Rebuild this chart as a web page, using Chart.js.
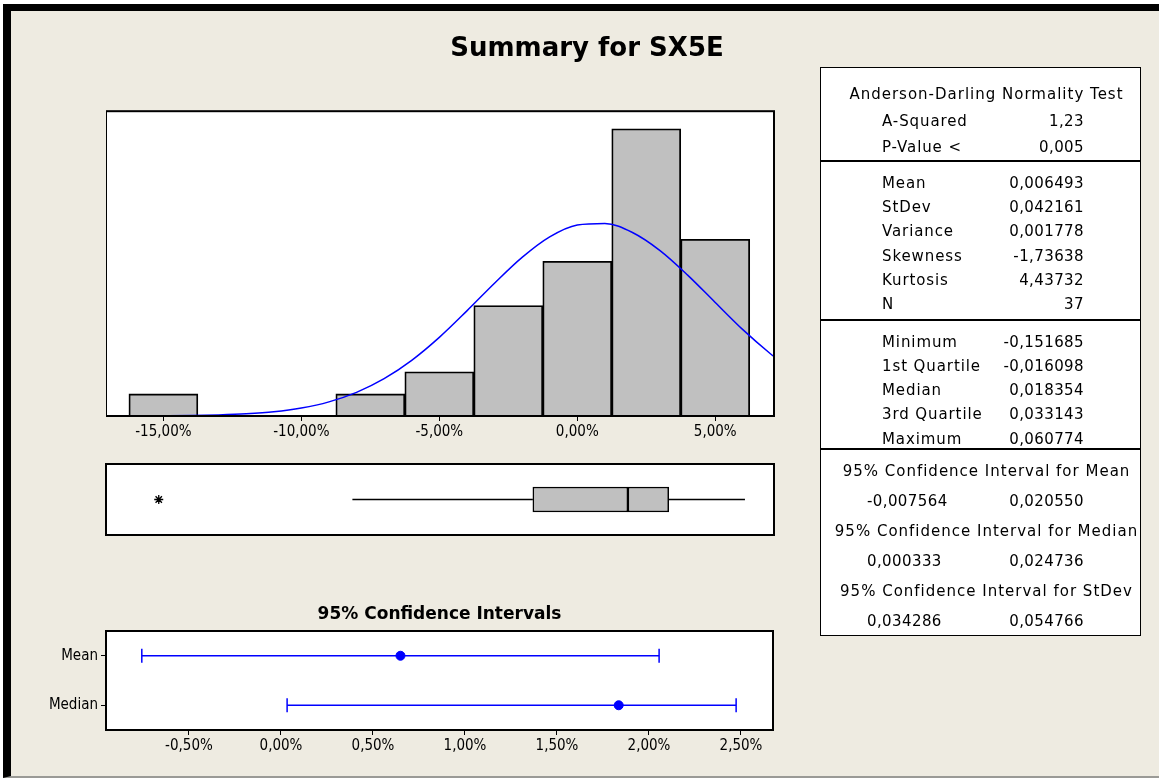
<!DOCTYPE html>
<html>
<head>
<meta charset="utf-8">
<script src="https://cdn.jsdelivr.net/npm/chart.js@4.4.1/dist/chart.umd.min.js"></script>
<style>
  body { margin: 0; width: 1159px; height: 778px; overflow: hidden; background: #fff; position: relative; }
  #page { position: absolute; left: 3px; top: 4px; width: 1156px; height: 774px; box-sizing: border-box;
          background: #eeebe1; border-top: 7px solid #000; border-left: 8px solid #000; border-bottom: 2px solid #9a9a96; }
  canvas { position: absolute; }
  #stats { position: absolute; left: 820px; top: 67px; width: 321px; height: 569px; box-sizing: border-box;
           border: 1.5px solid #000; background: #fff; font-family: 'DejaVu Sans', Verdana, sans-serif;
           font-size: 15px; color: #000; }
  .sec { border-bottom: 2px solid #000; box-sizing: border-box; }
  .sec:last-child { border-bottom: none; }
  .row { position: relative; white-space: nowrap; }
  .row .lab { position: absolute; left: 61px; letter-spacing: 0.9px; }
  .row .val { position: absolute; left: 0; width: 263px; text-align: right; letter-spacing: 0.4px; }
  .row .lo { position: absolute; left: 46px; letter-spacing: 0.4px; }
  .row .head { position: absolute; left: 6px; width: 100%; text-align: center; letter-spacing: 1px; }
</style>
</head>
<body>
<div id="page"></div>
<canvas id="hist" width="962" height="426" style="left:106px; top:20px;"></canvas>
<canvas id="box" width="672" height="75" style="left:104px; top:462px;"></canvas>
<canvas id="ci" width="839" height="166" style="left:20px; top:604px;"></canvas>
<div id="stats"></div>
<script>
// histogram (percent returns, bins of 2.5%)
const binCenters = [-15, -12.5, -10, -7.5, -5, -2.5, 0, 2.5, 5];
const binCounts = [1, null, null, 1, 2, 5, 7, 13, 8];
const histTicks = [-15, -10, -5, 0, 5];

// fitted normal curve
const curveX = [-15.2, -14, -13, -12, -11, -10, -9, -8, -7, -6, -5, -4, -3, -2, -1, 0, 1, 2, 3, 4, 5, 6, 7, 7.5];
const curveY = [0.01, 0.02, 0.05, 0.1, 0.19, 0.36, 0.64, 1.07, 1.69, 2.52, 3.56, 4.76, 6.01, 7.18, 8.11, 8.65, 8.72, 8.31, 7.49, 6.38, 5.14, 3.91, 2.82, 2.34];

// boxplot
const whiskerLow = -8.15;
const quartile1 = -1.6098;
const medianVal = 1.8354;
const quartile3 = 3.3143;
const whiskerHigh = 6.0774;
const outliers = [-15.1685];

// 95% confidence intervals
const ciLabels = ['Mean', 'Median'];
const ciEstimates = [0.6493, 1.8354];
const ciLower = [-0.7564, 0.0333];
const ciUpper = [2.0550, 2.4736];
const ciTicks = [-0.5, 0, 0.5, 1, 1.5, 2, 2.5];

// summary table
const adTitle = 'Anderson-Darling Normality Test';
const adRows = [['A-Squared', '1,23'], ['P-Value <', '0,005']];
const momentRows = [['Mean', '0,006493'], ['StDev', '0,042161'], ['Variance', '0,001778'],
                    ['Skewness', '-1,73638'], ['Kurtosis', '4,43732'], ['N', '37']];
const quantileRows = [['Minimum', '-0,151685'], ['1st Quartile', '-0,016098'], ['Median', '0,018354'],
                      ['3rd Quartile', '0,033143'], ['Maximum', '0,060774']];
const intervalRows = [['95% Confidence Interval for Mean', '-0,007564', '0,020550'],
                      ['95% Confidence Interval for Median', '0,000333', '0,024736'],
                      ['95% Confidence Interval for StDev', '0,034286', '0,054766']];

const tickFont = { family: "'DejaVu Sans Condensed', 'Liberation Sans Narrow', sans-serif", size: 15 };
const fmtPct = v => Number(v).toFixed(2).replace('.', ',') + '%';
const tickGrid = { display: true, drawOnChartArea: false, drawTicks: true, tickLength: 5, color: '#000', offset: false };

// empty axis used only to reserve room on the right, so titles stay centred on the canvas
function spacer(width) {
  return {
    type: 'linear', position: 'right', display: true,
    afterFit: s => { s.width = width; },
    ticks: { display: false }, grid: { display: false }, border: { display: false }
  };
}

// white plot area with a black frame
const framePlugin = {
  id: 'frame',
  beforeDraw(chart) {
    const a = chart.chartArea, ctx = chart.ctx;
    ctx.save();
    ctx.fillStyle = '#fff';
    ctx.fillRect(a.left, a.top, a.right - a.left, a.bottom - a.top);
    ctx.restore();
  },
  afterDraw(chart) {
    const a = chart.chartArea, ctx = chart.ctx;
    ctx.save();
    ctx.strokeStyle = '#000';
    ctx.lineWidth = 2;
    ctx.strokeRect(a.left, a.top, a.right - a.left, a.bottom - a.top);
    ctx.restore();
  }
};

new Chart(document.getElementById('hist'), {
  type: 'bar',
  data: {
    datasets: [
      {
        type: 'line',
        label: 'Normal',
        data: curveX.map((x, i) => ({ x: x, y: curveY[i] })),
        borderColor: '#0000ff',
        borderWidth: 1.5,
        pointRadius: 0,
        cubicInterpolationMode: 'monotone',
        order: 0
      },
      {
        type: 'bar',
        label: 'SX5E',
        data: binCenters.map((x, i) => ({ x: x, y: binCounts[i] })),
        backgroundColor: '#c0c0c0',
        borderColor: '#000',
        borderWidth: 1.8,
        barPercentage: 1,
        categoryPercentage: 1,
        order: 1
      }
    ]
  },
  options: {
    responsive: false,
    animation: false,
    layout: { autoPadding: false, padding: 0 },
    plugins: {
      legend: { display: false },
      tooltip: { enabled: false },
      title: {
        display: true,
        text: 'Summary for SX5E',
        color: '#000',
        font: { family: "'DejaVu Sans', sans-serif", size: 26, weight: 'bold' },
        padding: { top: 14, bottom: 46 }
      }
    },
    scales: {
      x: {
        type: 'linear',
        min: -17.08,
        max: 7.13,
        offset: false,
        afterBuildTicks: s => { s.ticks = histTicks.map(v => ({ value: v })); },
        afterFit: s => { s.height = 30; },
        ticks: { callback: fmtPct, font: tickFont, color: '#000', maxRotation: 0, autoSkip: false, padding: 2 },
        grid: tickGrid,
        border: { display: false }
      },
      y: { display: false, min: 0, max: 13.8 },
      right: spacer(294)
    }
  },
  plugins: [framePlugin]
});

new Chart(document.getElementById('box'), {
  type: 'bar',
  data: {
    datasets: [
      {
        type: 'line',
        data: [{ x: whiskerLow, y: 0.5 }, { x: quartile1, y: 0.5 }],
        borderColor: '#000', borderWidth: 1.5, pointRadius: 0
      },
      {
        type: 'line',
        data: [{ x: quartile3, y: 0.5 }, { x: whiskerHigh, y: 0.5 }],
        borderColor: '#000', borderWidth: 1.5, pointRadius: 0
      },
      {
        type: 'bar',
        indexAxis: 'y',
        data: [{ y: 0.5, x: [quartile1, medianVal] }],
        backgroundColor: '#c0c0c0', borderColor: '#000', borderWidth: 1.5,
        borderSkipped: false, barThickness: 25, grouped: false
      },
      {
        type: 'bar',
        indexAxis: 'y',
        data: [{ y: 0.5, x: [medianVal, quartile3] }],
        backgroundColor: '#c0c0c0', borderColor: '#000', borderWidth: 1.5,
        borderSkipped: false, barThickness: 25, grouped: false
      },
      {
        type: 'scatter',
        data: outliers.map(x => ({ x: x, y: 0.5 })),
        pointStyle: 'star', pointRadius: 4.5, borderColor: '#000', borderWidth: 1.3
      }
    ]
  },
  options: {
    responsive: false,
    animation: false,
    layout: { autoPadding: false, padding: 2 },
    plugins: { legend: { display: false }, tooltip: { enabled: false } },
    scales: {
      x: { type: 'linear', display: false, min: -17.08, max: 7.13, offset: false },
      y: { type: 'linear', display: false, min: 0, max: 1, offset: false }
    }
  },
  plugins: [framePlugin]
});

new Chart(document.getElementById('ci'), {
  type: 'scatter',
  data: {
    datasets: ciLabels.map((lab, i) => ({
      showLine: true,
      data: [{ x: ciLower[i], y: lab }, { x: ciUpper[i], y: lab }],
      borderColor: '#0000ff',
      borderWidth: 1.5,
      pointStyle: 'line',
      pointRadius: 7,
      pointRotation: 90,
      pointBorderColor: '#0000ff',
      pointBorderWidth: 1.5
    })).concat([{
      data: ciLabels.map((lab, i) => ({ x: ciEstimates[i], y: lab })),
      pointStyle: 'circle',
      pointRadius: 4.5,
      backgroundColor: '#0000ff',
      borderColor: '#0000ff'
    }])
  },
  options: {
    responsive: false,
    animation: false,
    layout: { autoPadding: false, padding: 0 },
    plugins: {
      legend: { display: false },
      tooltip: { enabled: false },
      title: {
        display: true,
        text: '95% Confidence Intervals',
        color: '#000',
        font: { family: "'DejaVu Sans', sans-serif", size: 17, weight: 'bold' },
        padding: { top: 0, bottom: 6.6 }
      }
    },
    scales: {
      x: {
        type: 'linear',
        min: -0.951,
        max: 2.674,
        afterBuildTicks: s => { s.ticks = ciTicks.map(v => ({ value: v })); },
        afterFit: s => { s.height = 40; },
        ticks: { callback: fmtPct, font: tickFont, color: '#000', maxRotation: 0, autoSkip: false, padding: 2 },
        grid: tickGrid,
        border: { display: false }
      },
      y: {
        type: 'category',
        labels: ciLabels,
        offset: true,
        afterFit: s => { s.width = 86; },
        ticks: { font: tickFont, color: '#000' },
        grid: tickGrid,
        border: { display: false }
      },
      right: spacer(86)
    }
  },
  plugins: [framePlugin]
});

// summary table
function section(height, pad, lineHeight, rows) {
  let html = '<div class="sec" style="height:' + height + 'px;padding-top:' + pad + 'px">';
  rows.forEach(r => {
    const h = r.h || lineHeight;
    html += '<div class="row" style="height:' + h + 'px;line-height:' + h + 'px">';
    if (r.head) html += '<span class="head">' + r.head + '</span>';
    if (r.lab) html += '<span class="lab">' + r.lab + '</span>';
    if (r.lo) html += '<span class="lo">' + r.lo + '</span>';
    if (r.val) html += '<span class="val">' + r.val + '</span>';
    html += '</div>';
  });
  return html + '</div>';
}
const pairs = rows => rows.map(r => ({ lab: r[0], val: r[1] }));
const ivRows = [];
intervalRows.forEach(r => {
  ivRows.push({ head: r[0] });
  ivRows.push({ lo: r[1], val: r[2] });
});
let statsHtml = '';
statsHtml += section(94, 12, 26, [{ head: adTitle, h: 28 }].concat(pairs(adRows)));
statsHtml += section(159, 8.5, 24.4, pairs(momentRows));
statsHtml += section(129, 8.5, 24.25, pairs(quantileRows));
statsHtml += section(184, 5.5, 30, ivRows);
document.getElementById('stats').innerHTML = statsHtml;
</script>
</body>
</html>
